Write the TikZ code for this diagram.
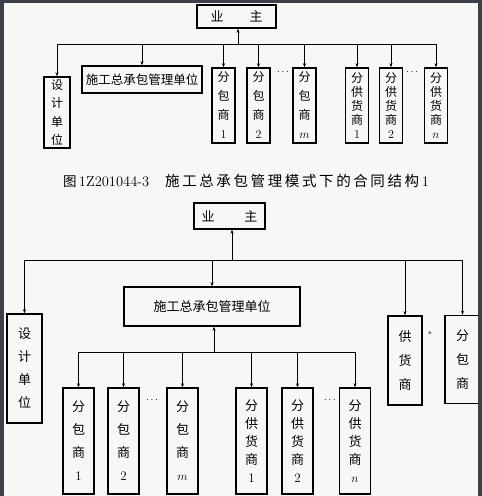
\documentclass[tikz,border=0pt]{standalone}
\usepackage{fontspec}
\newfontfamily\cjk{Noto Sans CJK SC}
\newfontfamily\cjkcap{Noto Sans CJK SC}[LetterSpace=18]
\usetikzlibrary{arrows.meta}
\definecolor{frame}{HTML}{3B4049}
\definecolor{paper}{HTML}{F7F7F6}
\tikzset{
    box/.style = {
        draw,
        line width = 1.4pt,
        inner sep  = 0pt,
        align      = center,
        font       = \cjk\fontsize{12}{19}\selectfont,
    },
    narrowA/.style = {box, minimum width=23pt, minimum height=75pt},
    narrowB/.style = {box, minimum width=31pt, minimum height=106pt,
                      font=\cjk\fontsize{13}{23}\selectfont},
    link/.style = {line width=0.8pt},
}

\begin{document}
\begin{tikzpicture}[x=1pt, y=-1pt, >={Stealth[length=4pt,width=3pt]}]
  % background and the dark frame of the scan
  \fill[frame] (0,0) rectangle (482,496);
  \fill[paper] (4,3) rectangle (478,496);
  \useasboundingbox (0,0) rectangle (482,496);

  % ---- upper chart ----
  \node[box, minimum width=79pt, minimum height=23pt, font=\cjk\fontsize{13}{15}\selectfont]
    (ownerA) at (236.5,16.5) {业\hspace{2em}主};
  \node[box, minimum width=26pt, minimum height=71pt, font=\cjk\fontsize{12}{18.5}\selectfont]
    (designA) at (57,112.5) {设\\计\\单\\位};
  \node[box, minimum width=120pt, minimum height=27pt, font=\cjk\fontsize{12.5}{15}\selectfont]
    (gcA) at (142,79.5) {施工总承包管理单位};
  \node[narrowA] (subA1) at (223.5,105.5) {分\\包\\商\\\textrm{1}};
  \node[narrowA] (subA2) at (258.5,105.5) {分\\包\\商\\\textrm{2}};
  \node[narrowA] (subAm) at (304.5,105.5) {分\\包\\商\\$m$};
  \node[narrowA, font=\cjk\fontsize{12}{14.2}\selectfont]
    (supA1) at (357,105.5) {分\\供\\货\\商\\\textrm{1}};
  \node[narrowA, font=\cjk\fontsize{12}{14.2}\selectfont]
    (supA2) at (391,105.5) {分\\供\\货\\商\\\textrm{2}};
  \node[narrowA, font=\cjk\fontsize{12}{14.2}\selectfont]
    (supAn) at (436,105.5) {分\\供\\货\\商\\$n$};
  \node (dotsA1) at (283,72) {$\cdots$};
  \node (dotsA2) at (412,72) {$\cdots$};

  \coordinate (busA) at (238,44);
  \draw[link, ->] (busA) -- (busA |- ownerA.south);
  \draw[link] (busA -| designA.north) -- (busA -| supAn.north);
  \foreach \n in {designA, gcA, subA1, subA2, subAm, supA1, supA2, supAn}
    \draw[link, ->] (busA -| \n.north) -- (\n.north);

  % caption
  \node[font=\cjkcap\fontsize{13.5}{16}\selectfont, inner sep=0pt] (caption) at (246,181)
    {图\fontsize{14.5}{16}\selectfont\textrm{1Z201044-3}\hspace{1.1em}施工总承包管理模式下的合同结构\textrm{1}};

  % ---- lower chart ----
  \node[box, minimum width=71pt, minimum height=26pt, font=\cjk\fontsize{13}{15}\selectfont]
    (ownerB) at (229.5,216) {业\hspace{2.3em}主};
  \node[box, minimum width=35pt, minimum height=109pt, font=\cjk\fontsize{13}{23}\selectfont]
    (designB) at (24.5,368.5) {设\\计\\单\\位};
  \node[box, minimum width=176pt, minimum height=39pt, font=\cjk\fontsize{13}{15}\selectfont]
    (gcB) at (212,306.5) {施工总承包管理单位};
  \node[box, minimum width=34pt, minimum height=89pt, font=\cjk\fontsize{13}{24}\selectfont]
    (supplyB) at (405,360.5) {供\\货\\商};
  \node[box, minimum width=35pt, minimum height=88pt, font=\cjk\fontsize{13}{24}\selectfont]
    (subconB) at (462.5,359.5) {分\\包\\商};
  \node[font=\footnotesize] (star) at (430,334) {*};

  \coordinate (busB) at (232,260);
  \draw[link, ->] (busB) -- (busB |- ownerB.south);
  \draw[link] (busB -| designB.north) -- (busB -| subconB.north);
  \foreach \n in {designB, gcB, supplyB, subconB}
    \draw[link, ->] (busB -| \n.north) -- (\n.north);

  \node[narrowB] (subB1) at (78.5,441) {分\\包\\商\\\textrm{1}};
  \node[narrowB] (subB2) at (123.5,441) {分\\包\\商\\\textrm{2}};
  \node[narrowB] (subBm) at (182.5,441) {分\\包\\商\\$m$};
  \node[narrowB, font=\cjk\fontsize{13}{18}\selectfont]
    (supB1) at (251.5,441) {分\\供\\货\\商\\\textrm{1}};
  \node[narrowB, font=\cjk\fontsize{13}{18}\selectfont]
    (supB2) at (297.5,441) {分\\供\\货\\商\\\textrm{2}};
  \node[narrowB, font=\cjk\fontsize{13}{18}\selectfont]
    (supBn) at (355,441) {分\\供\\货\\商\\$n$};
  \node (dotsB1) at (152,400) {$\cdots$};
  \node (dotsB2) at (330,400) {$\cdots$};

  \coordinate (busC) at (214,352);
  \draw[link, ->] (busC) -- (busC |- gcB.south);
  \draw[link] (busC -| subB1.north) -- (busC -| supBn.north);
  \foreach \n in {subB1, subB2, subBm, supB1, supB2, supBn}
    \draw[link, ->] (busC -| \n.north) -- (\n.north);

  % the right box runs under the frame
  \fill[frame] (478,3) rectangle (482,496);
\end{tikzpicture}
\end{document}
